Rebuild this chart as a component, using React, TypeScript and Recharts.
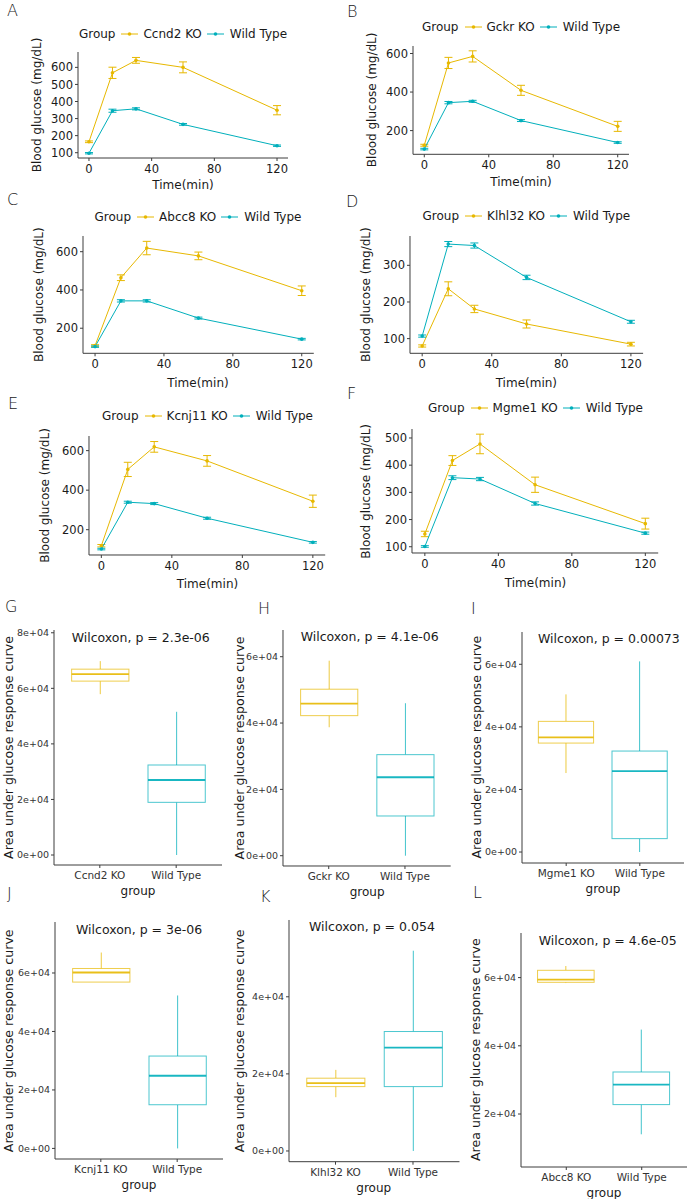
import React from 'react';
import { LineChart, Line, XAxis, YAxis, ErrorBar, BarChart, Bar } from 'recharts';

const KO_COLOR = '#E7B800';
const WT_COLOR = '#00AFBB';
const AXIS = '#3c3c3c';
const TEXT = '#1a1a1a';
const FONT = '"DejaVu Sans", Verdana, sans-serif';
const LETTER_FONT = '"DejaVu Sans", sans-serif';

// glucose tolerance time course
const TIME_MIN = [0, 15, 30, 60, 120];
const TIME_TICKS = [0, 40, 80, 120];

const CCND2_KO = [164, 568, 641, 600, 349];
const CCND2_KO_ERR = [5, 33, 17, 32, 27];
const CCND2_WT = [97, 346, 357, 266, 141];
const CCND2_WT_ERR = [4, 9, 6, 5, 4];

const GCKR_KO = [124, 551, 585, 409, 222];
const GCKR_KO_ERR = [5, 29, 29, 26, 26];
const GCKR_WT = [104, 345, 352, 252, 138];
const GCKR_WT_ERR = [4, 6, 5, 5, 4];

const ABCC8_KO = [109, 464, 619, 578, 396];
const ABCC8_KO_ERR = [5, 15, 35, 20, 25];
const ABCC8_WT = [104, 343, 343, 253, 143];
const ABCC8_WT_ERR = [4, 6, 6, 5, 4];

const KLHL32_KO = [80, 236, 181, 140, 85];
const KLHL32_KO_ERR = [3, 19, 10, 11, 5];
const KLHL32_WT = [107, 358, 354, 267, 146];
const KLHL32_WT_ERR = [3, 7, 7, 6, 4];

const KCNJ11_KO = [119, 505, 619, 548, 344];
const KCNJ11_KO_ERR = [6, 36, 27, 27, 31];
const KCNJ11_WT = [102, 339, 332, 258, 136];
const KCNJ11_WT_ERR = [4, 5, 5, 5, 4];

const MGME1_KO = [147, 417, 478, 328, 185];
const MGME1_KO_ERR = [10, 18, 36, 28, 20];
const MGME1_WT = [101, 354, 349, 259, 150];
const MGME1_WT_ERR = [3, 7, 6, 6, 4];

const TICKS_A = [100, 200, 300, 400, 500, 600];
const TICKS_200 = [200, 400, 600];
const TICKS_D = [100, 200, 300];
const TICKS_F = [100, 200, 300, 400, 500];

// AUC boxplots: [lower whisker, Q1, median, Q3, upper whisker]
const CCND2_AUC_KO = [57900, 62600, 65100, 66900, 69800];
const CCND2_AUC_WT = [0, 18960, 27000, 32400, 51550];
const GCKR_AUC_KO = [38730, 42230, 45850, 50200, 58800];
const GCKR_AUC_WT = [0, 11980, 23650, 30470, 45970];
const MGME1_AUC_KO = [25240, 34820, 36650, 41760, 50380];
const MGME1_AUC_WT = [0, 4280, 25880, 32270, 60930];
const KCNJ11_AUC_KO = [56890, 56890, 60170, 61540, 67000];
const KCNJ11_AUC_WT = [0, 14940, 24850, 31590, 52310];
const KLHL32_AUC_KO = [13950, 16700, 17580, 18880, 21040];
const KLHL32_AUC_WT = [0, 16700, 26830, 30990, 51950];
const ABCC8_AUC_KO = [58400, 58620, 59410, 62140, 63400];
const ABCC8_AUC_WT = [14050, 22760, 28620, 32320, 44750];

const AUC_TICKS_8 = [0, 20000, 40000, 60000, 80000];
const AUC_TICKS_6 = [0, 20000, 40000, 60000];
const AUC_TICKS_4 = [0, 20000, 40000];
const AUC_TICKS_L = [20000, 40000, 60000];

const LINE_PANELS = [
  { letter: 'A', lx: 7, ly: 15.5, gene: 'Ccnd2', ko: CCND2_KO, koErr: CCND2_KO_ERR, wt: CCND2_WT, wtErr: CCND2_WT_ERR,
    yDomain: [69, 690], yTicks: TICKS_A, x0: 78, x1: 288, y0: 52, y1: 158, yl: 41, xl: 27.3, legY: 34.3 },
  { letter: 'B', lx: 347, ly: 16.5, gene: 'Gckr', ko: GCKR_KO, koErr: GCKR_KO_ERR, wt: GCKR_WT, wtErr: GCKR_WT_ERR,
    yDomain: [77, 639], yTicks: TICKS_200, x0: 413, x1: 629, y0: 45.7, y1: 154, yl: 40.7, xl: 27.7, legY: 27.3 },
  { letter: 'C', lx: 7, ly: 205, gene: 'Abcc8', ko: ABCC8_KO, koErr: ABCC8_KO_ERR, wt: ABCC8_WT, wtErr: ABCC8_WT_ERR,
    yDomain: [69, 682], yTicks: TICKS_200, x0: 82.6, x1: 313.4, y0: 236, y1: 353.3, yl: 43.6, xl: 29.4, legY: 216.7 },
  { letter: 'D', lx: 346, ly: 207, gene: 'Klhl32', ko: KLHL32_KO, koErr: KLHL32_KO_ERR, wt: KLHL32_WT, wtErr: KLHL32_WT_ERR,
    yDomain: [60, 380], yTicks: TICKS_D, x0: 409.8, x1: 642.9, y0: 236, y1: 353.3, yl: 43.3, xl: 29.4, legY: 216 },
  { letter: 'E', lx: 8, ly: 408.5, gene: 'Kcnj11', ko: KCNJ11_KO, koErr: KCNJ11_KO_ERR, wt: KCNJ11_WT, wtErr: KCNJ11_WT_ERR,
    yDomain: [72, 674], yTicks: TICKS_200, x0: 89.4, x1: 325.6, y0: 436, y1: 555, yl: 44.4, xl: 29.3, legY: 416 },
  { letter: 'F', lx: 347, ly: 398.7, gene: 'Mgme1', ko: MGME1_KO, koErr: MGME1_KO_ERR, wt: MGME1_WT, wtErr: MGME1_WT_ERR,
    yDomain: [77, 533], yTicks: TICKS_F, x0: 412.4, x1: 658.6, y0: 429.3, y1: 553.3, yl: 46, xl: 30, legY: 408 },
];

const BOX_PANELS = [
  { letter: 'G', lx: 5, ly: 612, gene: 'Ccnd2', ko: CCND2_AUC_KO, wt: CCND2_AUC_WT, p: '2.3e-06',
    yDomain: [-3600, 81000], yTicks: AUC_TICKS_8, x0: 54, x1: 222, y0: 630, y1: 865, yl: 46, tx: 71.7, ty: 637.7 },
  { letter: 'H', lx: 258, ly: 614, gene: 'Gckr', ko: GCKR_AUC_KO, wt: GCKR_AUC_WT, p: '4.1e-06',
    yDomain: [-3100, 68050], yTicks: AUC_TICKS_6, x0: 283.3, x1: 451, y0: 630, y1: 866, yl: 44, tx: 300.7, ty: 636.7 },
  { letter: 'I', lx: 471, ly: 613.5, gene: 'Mgme1', ko: MGME1_AUC_KO, wt: MGME1_AUC_WT, p: '0.00073',
    yDomain: [-3510, 70320], yTicks: AUC_TICKS_6, x0: 522, x1: 684, y0: 631.7, y1: 862.7, yl: 45, tx: 538, ty: 638.3 },
  { letter: 'J', lx: 7, ly: 899, gene: 'Kcnj11', ko: KCNJ11_AUC_KO, wt: KCNJ11_AUC_WT, p: '3e-06',
    yDomain: [-3620, 77440], yTicks: AUC_TICKS_6, x0: 55, x1: 223, y0: 922.3, y1: 1159.3, yl: 46.7, tx: 76, ty: 929.3 },
  { letter: 'K', lx: 260, ly: 901.5, gene: 'Klhl32', ko: KLHL32_AUC_KO, wt: KLHL32_AUC_WT, p: '0.054',
    yDomain: [-2780, 59920], yTicks: AUC_TICKS_4, x0: 288.5, x1: 459, y0: 920, y1: 1161.7, yl: 48.8, tx: 309, ty: 926.7 },
  { letter: 'L', lx: 473, ly: 898, gene: 'Abcc8', ko: ABCC8_AUC_KO, wt: ABCC8_AUC_WT, p: '4.6e-05',
    yDomain: [4460, 73080], yTicks: AUC_TICKS_L, x0: 521, x1: 687, y0: 932.7, y1: 1166.7, yl: 45, tx: 538.7, ty: 940 },
];

const sci = (v: number) => (v === 0 ? '0e+00' : `${v / 10000}e+04`);

function LegendKey({ color }: { color: string }) {
  return (
    <svg width={17} height={8} style={{ display: 'block' }}>
      <line x1={0} y1={4} x2={17} y2={4} stroke={color} strokeWidth={1} />
      <circle cx={8.5} cy={4} r={1.8} fill={color} />
    </svg>
  );
}

function GroupLegend({ cx, cy, gene }: { cx: number; cy: number; gene: string }) {
  return (
    <div
      style={{
        position: 'absolute', left: cx - 200, top: cy - 8, width: 400, height: 16,
        display: 'flex', justifyContent: 'center', alignItems: 'center',
        fontFamily: FONT, fontSize: 12, color: TEXT, whiteSpace: 'nowrap', lineHeight: '16px',
      }}
    >
      <span>Group</span>
      <span style={{ marginLeft: 6 }}><LegendKey color={KO_COLOR} /></span>
      <span style={{ marginLeft: 5 }}>{gene} KO</span>
      <span style={{ marginLeft: 5 }}><LegendKey color={WT_COLOR} /></span>
      <span style={{ marginLeft: 6 }}>Wild Type</span>
    </div>
  );
}

function LinePanel({ p }: { p: any }) {
  const data = TIME_MIN.map((t, i) => ({ t, ko: p.ko[i], koErr: p.koErr[i], wt: p.wt[i], wtErr: p.wtErr[i] }));
  const YW = 50, TOP = 5, XH = 40, RIGHT = 6;
  const w = p.x1 - p.x0 + YW + RIGHT;
  const h = p.y1 - p.y0 + TOP + XH;
  const tick = { fontSize: 11.5, fill: TEXT, fontFamily: FONT };
  return (
    <>
      <GroupLegend cx={(p.x0 + p.x1) / 2} cy={p.legY} gene={p.gene} />
      <div style={{ position: 'absolute', left: p.x0 - YW, top: p.y0 - TOP }}>
        <LineChart width={w} height={h} data={data} margin={{ top: TOP, right: RIGHT, left: 0, bottom: 0 }}>
          <XAxis dataKey="t" type="number" domain={[-7, 127]} ticks={TIME_TICKS} allowDataOverflow
            height={XH} tickSize={3} tickMargin={4} tick={tick} stroke={AXIS} />
          <YAxis type="number" domain={p.yDomain} ticks={p.yTicks} allowDataOverflow
            width={YW} tickSize={3} tickMargin={2} tick={tick} stroke={AXIS} />
          <Line type="linear" dataKey="ko" stroke={KO_COLOR} strokeWidth={1} activeDot={false}
            dot={{ r: 1.8, fill: KO_COLOR, stroke: KO_COLOR, strokeWidth: 0 }} isAnimationActive={false}>
            <ErrorBar dataKey="koErr" width={4} stroke={KO_COLOR} strokeWidth={1} direction="y" />
          </Line>
          <Line type="linear" dataKey="wt" stroke={WT_COLOR} strokeWidth={1} activeDot={false}
            dot={{ r: 1.8, fill: WT_COLOR, stroke: WT_COLOR, strokeWidth: 0 }} isAnimationActive={false}>
            <ErrorBar dataKey="wtErr" width={4} stroke={WT_COLOR} strokeWidth={1} direction="y" />
          </Line>
        </LineChart>
      </div>
    </>
  );
}

function BoxShape(props: any) {
  const { x, y, width, height, payload } = props;
  const [lo, q1, med, q3, hi] = payload.stats;
  const ppu = height / (q3 - q1);
  const py = (v: number) => y + (q3 - v) * ppu;
  const cx = x + width / 2;
  const color = payload.wt ? WT_COLOR : KO_COLOR;
  return (
    <g>
      <line x1={cx} x2={cx} y1={py(hi)} y2={y} stroke={color} strokeOpacity={0.75} strokeWidth={1} />
      <line x1={cx} x2={cx} y1={y + height} y2={py(lo)} stroke={color} strokeOpacity={0.75} strokeWidth={1} />
      <rect x={x} y={y} width={width} height={height} fill="#fff" stroke={color} strokeOpacity={0.7} strokeWidth={1} />
      <line x1={x} x2={x + width} y1={py(med)} y2={py(med)} stroke={color} strokeOpacity={0.9} strokeWidth={1.8} />
    </g>
  );
}

function BoxPanel({ p }: { p: any }) {
  const data = [
    { name: `${p.gene} KO`, box: [p.ko[1], p.ko[3]], stats: p.ko, wt: false },
    { name: 'Wild Type', box: [p.wt[1], p.wt[3]], stats: p.wt, wt: true },
  ];
  const YW = 52, TOP = 5, XH = 40, RIGHT = 1;
  const W = p.x1 - p.x0;
  const pad = W / 22;
  const band = (W - 2 * pad) / 2;
  return (
    <div style={{ position: 'absolute', left: p.x0 - YW, top: p.y0 - TOP }}>
      <BarChart width={W + YW + RIGHT} height={p.y1 - p.y0 + TOP + XH} data={data}
        margin={{ top: TOP, right: RIGHT, left: 0, bottom: 0 }}>
        <XAxis dataKey="name" type="category" padding={{ left: pad, right: pad }} height={XH}
          tickSize={3} tickMargin={4} stroke={AXIS} tick={{ fontSize: 10.5, fill: '#333', fontFamily: FONT }} />
        <YAxis type="number" domain={p.yDomain} ticks={p.yTicks} allowDataOverflow width={YW}
          tickSize={3} tickMargin={2} stroke={AXIS} tickFormatter={sci}
          tick={{ fontSize: 9.5, fill: '#333', fontFamily: FONT }} />
        <Bar dataKey="box" barSize={band * 0.75} shape={BoxShape} isAnimationActive={false} />
      </BarChart>
    </div>
  );
}

export default function App() {
  return (
    <div style={{ position: 'absolute', left: 0, top: 0, width: 688, height: 1199, background: '#fff', overflow: 'hidden' }}>
      {LINE_PANELS.map((p) => <LinePanel key={p.letter} p={p} />)}
      {BOX_PANELS.map((p) => <BoxPanel key={p.letter} p={p} />)}
      <svg width={688} height={1199} style={{ position: 'absolute', left: 0, top: 0, pointerEvents: 'none' }}>
        {LINE_PANELS.map((p) => {
          const cy = (p.y0 + p.y1) / 2;
          const lx = p.x0 - p.yl;
          return (
            <g key={p.letter}>
              <text x={p.lx} y={p.ly} fontFamily={LETTER_FONT} fontWeight={200} fontSize={16} fill={TEXT}>{p.letter}</text>
              <text x={lx} y={cy} transform={`rotate(-90 ${lx} ${cy})`} textAnchor="middle" dominantBaseline="central"
                fontFamily={FONT} fontSize={12} fill={TEXT}>Blood glucose (mg/dL)</text>
              <text x={(p.x0 + p.x1) / 2} y={p.y1 + p.xl} textAnchor="middle" dominantBaseline="central"
                fontFamily={FONT} fontSize={12} fill={TEXT}>Time(min)</text>
            </g>
          );
        })}
        {BOX_PANELS.map((p) => {
          const cy = (p.y0 + p.y1) / 2;
          const lx = p.x0 - p.yl;
          return (
            <g key={p.letter}>
              <text x={p.lx} y={p.ly} fontFamily={LETTER_FONT} fontWeight={200} fontSize={16} fill={TEXT}>{p.letter}</text>
              <text x={lx} y={cy} transform={`rotate(-90 ${lx} ${cy})`} textAnchor="middle" dominantBaseline="central"
                fontFamily={FONT} fontSize={12.6} fill={TEXT}>Area under glucose response curve</text>
              <text x={(p.x0 + p.x1) / 2} y={p.y1 + 26} textAnchor="middle" dominantBaseline="central"
                fontFamily={FONT} fontSize={12} fill={TEXT}>group</text>
              <text x={p.tx} y={p.ty} dominantBaseline="central" fontFamily={FONT} fontSize={12.5} fill={TEXT}>
                Wilcoxon, p = {p.p}
              </text>
            </g>
          );
        })}
      </svg>
    </div>
  );
}
